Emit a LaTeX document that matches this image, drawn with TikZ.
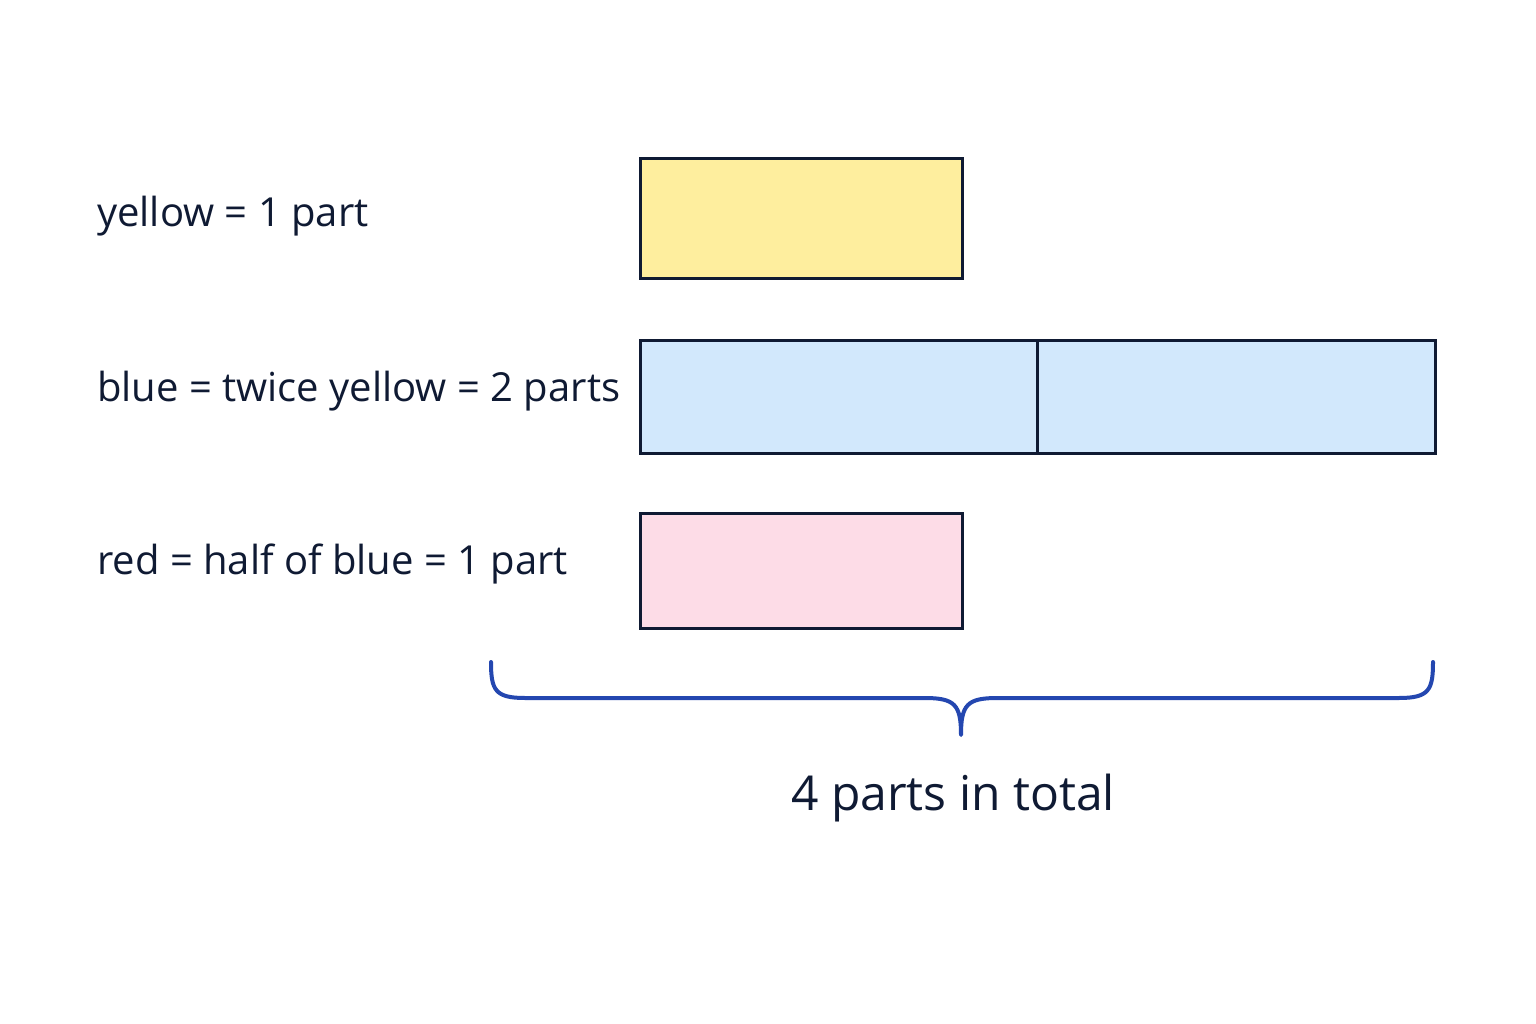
\documentclass[tikz,border=0pt]{standalone}
\usepackage{fontspec}
\setmainfont{Open Sans}
\definecolor{ink}{HTML}{0F1A33}
\definecolor{yel}{HTML}{FEEE9E}
\definecolor{blu}{HTML}{D2E8FC}
\definecolor{pnk}{HTML}{FDDCE7}
\definecolor{brc}{HTML}{2447B0}
\begin{document}
\begin{tikzpicture}[x=1pt,y=-1pt,
  bar/.style={draw=ink,line width=3pt},
  lbl/.style={anchor=west,text=ink,font=\fontsize{40}{48}\selectfont,inner sep=0pt}]
\useasboundingbox (0,0) rectangle (1536,1024);
\fill[white] (0,0) rectangle (1536,1024);
\draw[bar,fill=yel] (640,159) rectangle (962,279);
\node[coordinate] (y) at (801,219) {};
\draw[bar,fill=blu] (640,340) rectangle (1435,453);
\draw[bar] (1037,340) -- (1037,453);
\draw[bar,fill=pnk] (640,513) rectangle (962,628);
\node[lbl] (ly) at (97,216) {yellow = 1 part};
\node[lbl] (lb) at (97,391) {blue = twice yellow = 2 parts};
\node[lbl] (lr) at (97,564) {red = half of blue = 1 part};
\draw[brc,line width=4pt,line cap=round,line join=round]
  (491,662) .. controls (491,690) and (495,698) .. (525,698)
  -- (925,698) .. controls (955,698) and (961,705) .. (961,735)
  .. controls (961,705) and (967,698) .. (997,698)
  -- (1399,698) .. controls (1429,698) and (1433,690) .. (1433,662);
\node[text=ink,font=\fontsize{48}{56}\selectfont,inner sep=0pt] (tot) at (953,798) {4 parts in total};
\end{tikzpicture}
\end{document}
